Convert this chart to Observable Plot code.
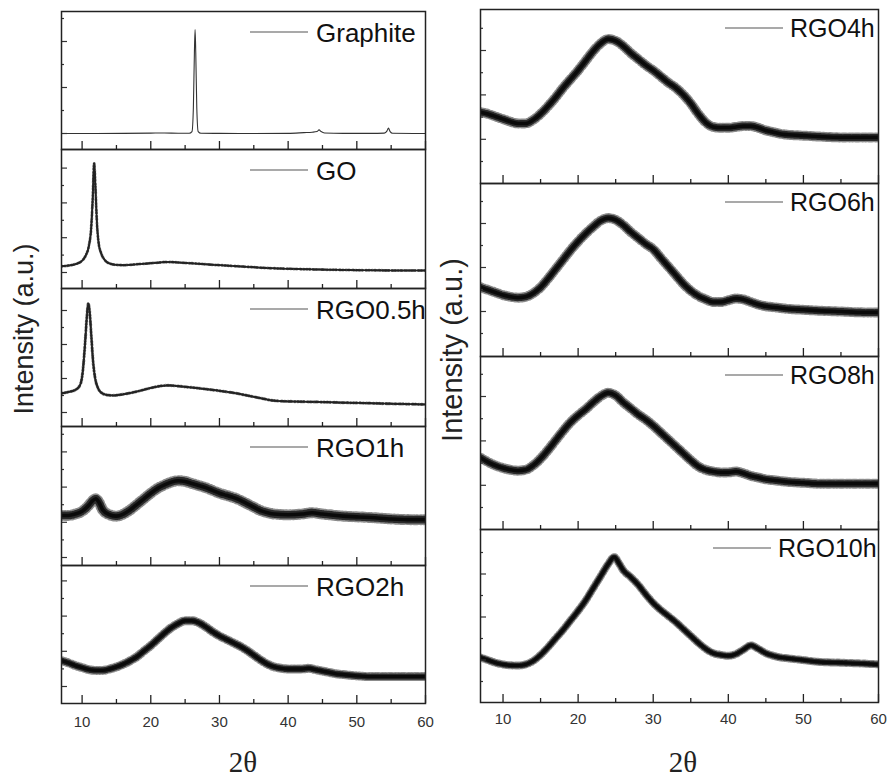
<!DOCTYPE html>
<html>
<head>
<meta charset="utf-8">
<script src="https://cdn.jsdelivr.net/npm/d3@7"></script>
<script src="https://cdn.jsdelivr.net/npm/@observablehq/plot@0.6"></script>
<style>
  html, body { margin: 0; padding: 0; background: #fff; }
  #chart { position: relative; width: 890px; height: 779px; background: #fff; overflow: hidden; }
  #chart > div { position: absolute; }
</style>
</head>
<body>
<div id="chart"></div>
<script>
// ---------------- DATA (2θ in degrees, intensity in a.u., % of panel) ----------------
const xMajor = [10, 20, 30, 40, 50, 60];
const xMinor = [15, 25, 35, 45, 55];
const leftNames = ["Graphite", "GO", "RGO0.5h", "RGO1h", "RGO2h"];
const rightNames = ["RGO4h", "RGO6h", "RGO8h", "RGO10h"];

const graphite = [[7,11.6],[12,11.6],[16,11.7],[20,11.9],[22,12.0],[24,11.8],[25.6,11.8],[26.0,13],[26.2,30],[26.35,70],[26.45,87],[26.55,70],[26.7,30],[26.9,13],[27.3,11.8],[30,11.7],[35,11.6],[40,11.7],[42.3,12.2],[43.5,12.5],[44.2,13],[44.5,14.2],[44.8,13],[45.3,12],[48,11.7],[52,11.7],[54.0,11.9],[54.4,13.5],[54.6,15.5],[54.85,13],[55.2,11.8],[60,11.6]];

const go = [[7,16],[8,16.5],[9,17.5],[10,20],[10.5,23.5],[11,31],[11.3,42],[11.55,65],[11.75,90],[11.95,72],[12.15,48],[12.4,33],[12.8,25],[13.3,20.5],[14,18],[15,17],[16,16.8],[17,17],[18,17.5],[19,17.8],[20,18.2],[21,18.6],[22,19],[23,19],[24,18.7],[25,18.4],[26,18.1],[27,17.8],[28,17.4],[30,16.8],[32,16.2],[34,15.6],[36,15],[38,14.5],[40,14.2],[43,13.8],[46,13.5],[50,13.2],[55,13],[60,12.9]];

const rgo05 = [[7,24],[8,25],[9,26.5],[9.7,30],[10.1,40],[10.4,58],[10.7,80],[10.9,89],[11.1,83],[11.35,65],[11.6,47],[11.9,35],[12.3,28],[12.8,24.5],[13.5,23],[14.5,22.5],[15.5,23],[16.5,23.8],[17.5,24.8],[18.5,26],[19.5,27.3],[20.5,28.5],[21.5,29.4],[22.5,29.8],[23.5,29.5],[24.5,29],[25.5,28.5],[26.5,28],[27.5,27.4],[28.5,26.8],[29.5,26.2],[30.5,25.5],[31.5,24.8],[32.5,24],[33.5,23],[34.5,22],[35.5,21],[36.5,20],[37.5,19],[38.5,18.5],[40,18.2],[42,18],[45,17.7],[48,17.3],[51,17],[54,16.6],[57,16.3],[60,16]];

const rgo1 = [[7,36],[8,36],[9,37],[10,39],[11,43.5],[11.5,46.5],[12,48],[12.5,45],[13,40],[14,36.5],[15,35.5],[16,37],[17,40],[18,44],[19,48],[20,52],[21,55.5],[22,58],[23,60],[24,61],[25,60.5],[26,59],[27,57.5],[28,56],[29,54],[30,52],[31,50.5],[32,49],[33,47],[34,44.5],[35,42],[36,39.5],[37,38],[38,37],[40,36.5],[42,37],[43.5,38],[45,37],[46,36.5],[48,35.5],[50,35],[52,34.5],[55,33.5],[58,33],[60,33]];

const rgo2 = [[7,31],[8,29.5],[9,27.5],[10,26],[11,24.5],[12,24],[13,24],[14,25],[15,26.5],[16,28.5],[17,31],[18,34],[19,38],[20,42],[21,46.5],[22,51],[23,55],[24,58],[25,60],[26,60],[27,58.5],[28,55.5],[29,52],[30,49],[31,46.5],[32,44],[33,41.5],[34,38.5],[35,35],[36,31.5],[37,28.5],[38,26.5],[39,25.5],[40,25],[41,25],[42,25],[43,25.5],[44,24.5],[45,23.5],[46,22.5],[47,21.5],[48,21],[50,20],[52,19.5],[55,19.5],[58,19.5],[60,19.5]];

const rgo4 = [[7,41],[8,40],[9,38.5],[10,37],[11,35.5],[12,34.5],[13,34.5],[14,36.5],[15,40],[16,44.5],[17,49.5],[18,55],[19,60],[20,65],[21,70.5],[22,76],[23,80.5],[24,83],[25,82],[26,79],[27,75],[28,71.5],[29,68],[30,65],[31,61.5],[32,58],[33,55],[34,51],[35,46],[36,40],[37,35],[38,32.5],[39,32],[40,32],[41,32.5],[42,33],[43,33],[44,32],[45,30.5],[46,29.5],[47,28.5],[48,28],[50,27.5],[52,27],[55,26.5],[58,26.5],[60,26.5]];

const rgo6 = [[7,40],[8,38.5],[9,37],[10,35.5],[11,34.5],[12,34],[13,34.5],[14,36.5],[15,40],[16,45],[17,50.5],[18,56],[19,61.5],[20,66.5],[21,71],[22,75],[23,78.5],[24,80],[25,79],[26,76],[27,72],[28,68.5],[29,65],[30,62],[31,57],[32,52],[33,47],[34,42],[35,38],[36,35],[37,33],[38,31.5],[39,31.5],[40,32.5],[41,33.5],[42,33],[43,31.5],[44,30],[45,29],[46,28.5],[48,27.5],[50,27],[52,26.5],[55,26],[58,25.5],[60,25.5]];

const rgo8 = [[7,41.5],[8,39],[9,37],[10,35.5],[11,34.5],[12,34],[13,34.5],[14,37],[15,41],[16,46],[17,51.5],[18,57],[19,62],[20,66],[21,69.5],[22,73.5],[23,77],[24,79],[25,77.5],[26,73.5],[27,70],[28,66.5],[29,63.5],[30,60],[31,56],[32,52],[33,48],[34,44],[35,40],[36,36.5],[37,34.5],[38,33.5],[39,33],[40,33],[41,33.5],[42,32.5],[43,31],[44,30],[45,29],[46,28.5],[48,27.5],[50,27],[52,26.5],[55,26.5],[58,26.5],[60,26.5]];

const rgo10 = [[7,26],[8,24.5],[9,23],[10,22],[11,21.5],[12,21.4],[13,22],[14,24],[15,27.5],[16,32],[17,37],[18,42],[19,47.5],[20,53],[21,59],[22,66],[23,73],[24,80],[24.8,84],[25.5,80],[26,76.5],[27,72.5],[28,68],[29,62.5],[30,57.5],[31,53.5],[32,50],[33,46.5],[34,42.5],[35,38.5],[36,34.5],[37,31],[38,28.5],[39,27.5],[40,27],[41,28],[42,30.5],[43,33],[44,31],[45,28.5],[46,27],[47,26],[48,25.5],[50,24.5],[52,23.5],[55,23],[58,22.5],[60,22]];

const leftSeries = [graphite, go, rgo05, rgo1, rgo2];
const rightSeries = [rgo4, rgo6, rgo8, rgo10];

// ---------------- LAYOUT ----------------
const chart = document.getElementById("chart");
const FONT = "'Liberation Sans', Arial, Helvetica, sans-serif";

const leftCol = { x: 61, w: 364, tops: [11, 149, 288, 426, 565], bottom: 703,
  legend: { l1: 189, l2: 247, tx: 255, base: 31, ly: 21, fs: 26 }, tickPad: 13 };
const rightCol = { x: 480, w: 398, tops: [9, 183, 356, 529], bottom: 702,
  legend: { l1: 245, l2: 303, tx: 310, base: 28, ly: 19, fs: 25 }, tickPad: 11 };

// y tick layout per panel: [start px from bottom, step px, count, bottom tick long?]
const yTickLayout = {
  "Graphite": [16, 23, 6, true], "GO": [16, 17.4, 7, true], "RGO0.5h": [14, 17, 7, true],
  "RGO1h": [8, 17.6, 8, true], "RGO2h": [17, 17.6, 7, true],
  "RGO4h": [22, 22.2, 7, false], "RGO6h": [23, 22, 7, false], "RGO8h": [22, 22.2, 7, false], "RGO10h": [21, 21.5, 7, false]
};
// line style per series: [fuzz width, core width, core colour]
const lineStyle = {
  "Graphite": [0, 1.1, "#333"], "GO": [3, 1.5, "#222"], "RGO0.5h": [3.2, 1.5, "#222"],
  "RGO1h": [11, 3.6, "#0a0a0a"], "RGO2h": [9, 3.4, "#0a0a0a"],
  "RGO4h": [10, 3.6, "#0a0a0a"], "RGO6h": [10, 3.6, "#0a0a0a"], "RGO8h": [10, 3.6, "#0a0a0a"], "RGO10h": [8, 3.2, "#0a0a0a"]
};

function makePanel(name, series, col, i, last) {
  const top = col.tops[i];
  const bot = (i + 1 < col.tops.length) ? col.tops[i + 1] : col.bottom;
  const H = bot - top, W = col.w, pad = 3;
  const mb = last ? 45 : pad;
  const rows = series.map(([t, v]) => ({ t, v }));
  const [ys, ystep, yn, firstLong] = yTickLayout[name];
  const yLong = [], yShort = [];
  for (let k = 0; k < yn; k++) {
    const v = (ys + k * ystep) / H * 100;
    ((k % 2 === 0) === firstLong ? yLong : yShort).push(v);
  }
  const [fuzz, core, color] = lineStyle[name];
  const marks = [];
  if (fuzz) {
    // hairy band: thick dashed strokes give short irregular bars across the trace
    marks.push(Plot.line(rows, { x: "t", y: "v", stroke: "#000", strokeOpacity: 0.45, strokeWidth: fuzz,
      strokeDasharray: "0.8 2.6 0.6 1.9 1.0 3.3 0.7 2.2", curve: "monotone-x", clip: true }));
    marks.push(Plot.line(rows, { x: "t", y: "v", stroke: "#000", strokeOpacity: 0.7, strokeWidth: fuzz * 0.7,
      strokeDasharray: "1.2 1.7 0.7 2.4 1.5 1.3", curve: "monotone-x", clip: true }));
  }
  marks.push(Plot.line(rows, { x: "t", y: "v", stroke: color, strokeWidth: core, curve: "monotone-x", clip: true }));
  marks.push(Plot.axisX(xMajor, { anchor: "bottom", tickSize: -8, tickFormat: () => "", label: null, stroke: "#222", strokeWidth: 1.3 }));
  marks.push(Plot.axisX(xMinor, { anchor: "bottom", tickSize: -4, tickFormat: () => "", label: null, stroke: "#222", strokeWidth: 1.3 }));
  marks.push(Plot.axisY(yLong, { anchor: "left", tickSize: -6, tickFormat: () => "", label: null, stroke: "#333", strokeWidth: 1.2 }));
  marks.push(Plot.axisY(yShort, { anchor: "left", tickSize: -3, tickFormat: () => "", label: null, stroke: "#333", strokeWidth: 1.2 }));
  if (last) marks.push(Plot.axisX(xMajor, { anchor: "bottom", tickSize: 0, tickPadding: col.tickPad, label: null, fontSize: 15, fill: "#333" }));
  marks.push(Plot.frame({ stroke: "#222", strokeWidth: 1.5 }));

  const svg = Plot.plot({
    width: W + 2 * pad, height: H + pad + mb,
    marginTop: pad, marginLeft: pad, marginRight: pad, marginBottom: mb,
    x: { domain: [7, 60] }, y: { domain: [0, 100] },
    style: { background: "transparent", overflow: "visible", fontFamily: FONT, color: "#222" },
    marks
  });

  // legend (line sample + label) at panel top right
  const lg = col.legend;
  const shift = name === "RGO10h" ? -12 : 0;
  const s = d3.select(svg);
  s.append("line")
    .attr("x1", pad + lg.l1 + shift).attr("x2", pad + lg.l2 + shift)
    .attr("y1", pad + lg.ly).attr("y2", pad + lg.ly)
    .attr("stroke", "#555").attr("stroke-width", 1.2);
  s.append("text")
    .attr("x", pad + lg.tx + shift).attr("y", pad + lg.base)
    .attr("text-anchor", "start")
    .attr("font-family", FONT).attr("font-size", lg.fs).attr("fill", "#111")
    .text(name);

  const wrap = document.createElement("div");
  wrap.style.left = (col.x - pad) + "px";
  wrap.style.top = (top - pad) + "px";
  wrap.appendChild(svg);
  chart.appendChild(wrap);
}

leftNames.forEach((n, i) => makePanel(n, leftSeries[i], leftCol, i, i === leftNames.length - 1));
rightNames.forEach((n, i) => makePanel(n, rightSeries[i], rightCol, i, i === rightNames.length - 1));

// axis titles overlay
const ov = d3.select(chart).append("div").style("left", "0px").style("top", "0px")
  .append("svg").attr("width", 890).attr("height", 779).style("pointer-events", "none");
function yTitle(x, y, fs) {
  ov.append("text").attr("transform", `translate(${x},${y}) rotate(-90)`)
    .attr("text-anchor", "middle").attr("font-family", FONT).attr("font-size", fs)
    .attr("fill", "#222").text("Intensity (a.u.)");
}
function xTitle(x, y) {
  ov.append("text").attr("x", x).attr("y", y).attr("text-anchor", "middle")
    .attr("font-family", "'Liberation Serif', 'DejaVu Serif', serif").attr("font-size", 29)
    .attr("fill", "#222").text("2θ");
}
yTitle(33, 329, 27);
yTitle(462, 350, 29);
xTitle(243, 772);
xTitle(683, 772);
</script>
</body>
</html>
